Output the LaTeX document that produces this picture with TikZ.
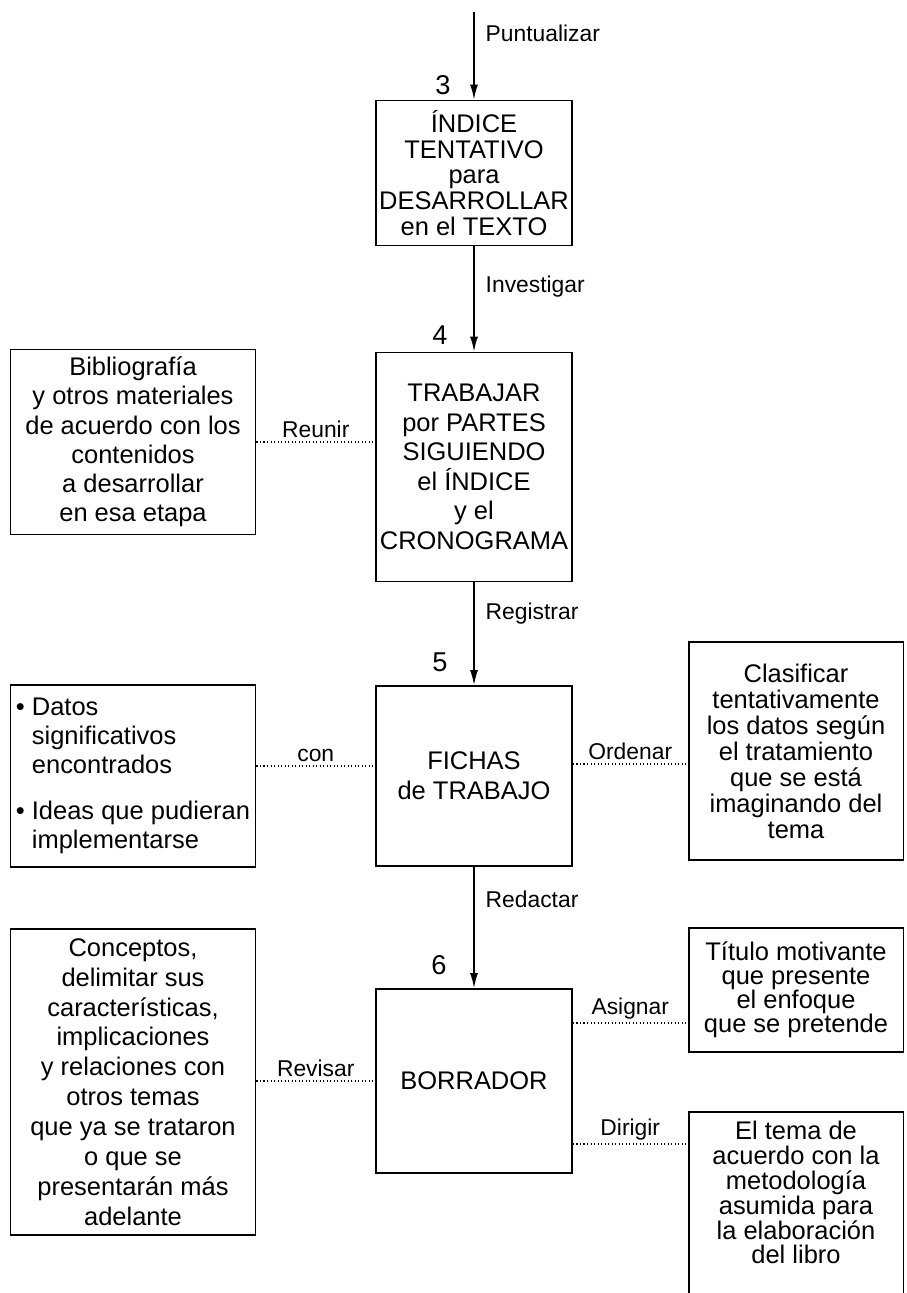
\documentclass[tikz,border=0pt]{standalone}
\usepackage{fontspec}
\setmainfont{Liberation Sans}
\usetikzlibrary{arrows.meta}

\begin{document}
\begin{tikzpicture}[x=0.02cm, y=-0.02cm,
    caja/.style={draw, line width=1.1pt, align=center, inner sep=2pt,
        font=\fontsize{14.5}{#1}\selectfont},
    caja/.default=16.6pt,
    etiqueta/.style={font=\fontsize{13}{15}\selectfont, inner sep=2pt},
    numero/.style={font=\fontsize{15.5}{18}\selectfont, inner sep=0pt},
    flecha/.style={line width=0.8pt, -{Latex[length=3mm,width=1.6mm]}},
    enlace/.style={line width=0.6pt, dash pattern=on 0.6pt off 1.4pt}]

    \useasboundingbox (0,0) rectangle (906,1293);
    \clip (0,0) rectangle (906,1293);

    \node[caja=14.6pt, minimum width=3.92cm, minimum height=2.9cm] (indice) at (474,173) {ÍNDICE\\TENTATIVO\\para\\DESARROLLAR\\en el TEXTO};
    \node[caja=16.8pt, minimum width=3.92cm, minimum height=4.58cm] (trabajar) at (474,467) {TRABAJAR\\por PARTES\\SIGUIENDO\\el ÍNDICE\\y el\\CRONOGRAMA};
    \node[caja=17pt, minimum width=3.92cm, minimum height=3.6cm] (fichas) at (474,776) {FICHAS\\de TRABAJO};
    \node[caja, minimum width=3.92cm, minimum height=3.68cm] (borrador) at (474,1081) {BORRADOR};

    \node[caja=16.6pt, minimum width=4.9cm, minimum height=3.7cm] (biblio) at (133,442) {Bibliografía\\y otros materiales\\de acuerdo con los\\contenidos\\a desarrollar\\en esa etapa};
    \node[caja=16.4pt, align=left, minimum width=4.9cm, minimum height=3.64cm] (datos) at (133,776) {\textbullet\ Datos\\\hphantom{\textbullet\ }significativos\\\hphantom{\textbullet\ }encontrados\\[10pt]\textbullet\ Ideas que pudieran\\\hphantom{\textbullet\ }implementarse};
    \node[caja=17pt, minimum width=4.9cm, minimum height=6.12cm] (conceptos) at (133,1082) {Conceptos,\\delimitar sus\\características,\\implicaciones\\y relaciones con\\otros temas\\que ya se trataron\\o que se\\presentarán más\\adelante};

    \node[caja=14.8pt, minimum width=4.3cm, minimum height=4.36cm] (clasif) at (796,751) {Clasificar\\tentativamente\\los datos según\\el tratamiento\\que se está\\imaginando del\\tema};
    \node[caja=13.6pt, minimum width=4.3cm, minimum height=2.48cm] (titulo) at (796,990) {Título motivante\\que presente\\el enfoque\\que se pretende};
    \node[caja=14.2pt, minimum width=4.3cm, anchor=north, inner ysep=5pt, text depth=4cm] (tema) at (796,1111) {El tema de\\acuerdo con la\\metodología\\asumida para\\la elaboración\\del libro};

    \node[numero] (n3) at (443,85) {3};
    \node[numero] (n4) at (440,335) {4};
    \node[numero] (n5) at (440,662) {5};
    \node[numero] (n6) at (439,965) {6};

    \coordinate (inicio) at (474,12);
    \draw[flecha] (inicio) -- (indice) node[etiqueta, right=0.15cm, pos=0.24] {Puntualizar};
    \draw[flecha] (indice) -- (trabajar) node[etiqueta, right=0.15cm, pos=0.38] {Investigar};
    \draw[flecha] (trabajar) -- (fichas) node[etiqueta, right=0.15cm, pos=0.3] {Registrar};
    \draw[flecha] (fichas) -- (borrador) node[etiqueta, right=0.15cm, pos=0.27] {Redactar};

    \draw[enlace] (biblio.east) -- (biblio.east -| trabajar.west) node[etiqueta, above, midway] {Reunir};
    \draw[enlace] ([yshift=0.2cm]datos.east) -- ([yshift=0.2cm]datos.east -| fichas.west) node[etiqueta, above, midway] {con};
    \draw[enlace] ([yshift=0.24cm]fichas.east) -- ([yshift=0.24cm]fichas.east -| clasif.west) node[etiqueta, above, midway] {Ordenar};
    \draw[enlace] (conceptos.east |- borrador.west) -- (borrador.west) node[etiqueta, above, midway] {Revisar};
    \draw[enlace] ([yshift=1.16cm]borrador.east) -- ([yshift=1.16cm]borrador.east -| titulo.west) node[etiqueta, above, midway] {Asignar};
    \draw[enlace] ([yshift=-1.26cm]borrador.east) -- ([yshift=-1.26cm]borrador.east -| tema.west) node[etiqueta, above, midway] {Dirigir};
\end{tikzpicture}
\end{document}
